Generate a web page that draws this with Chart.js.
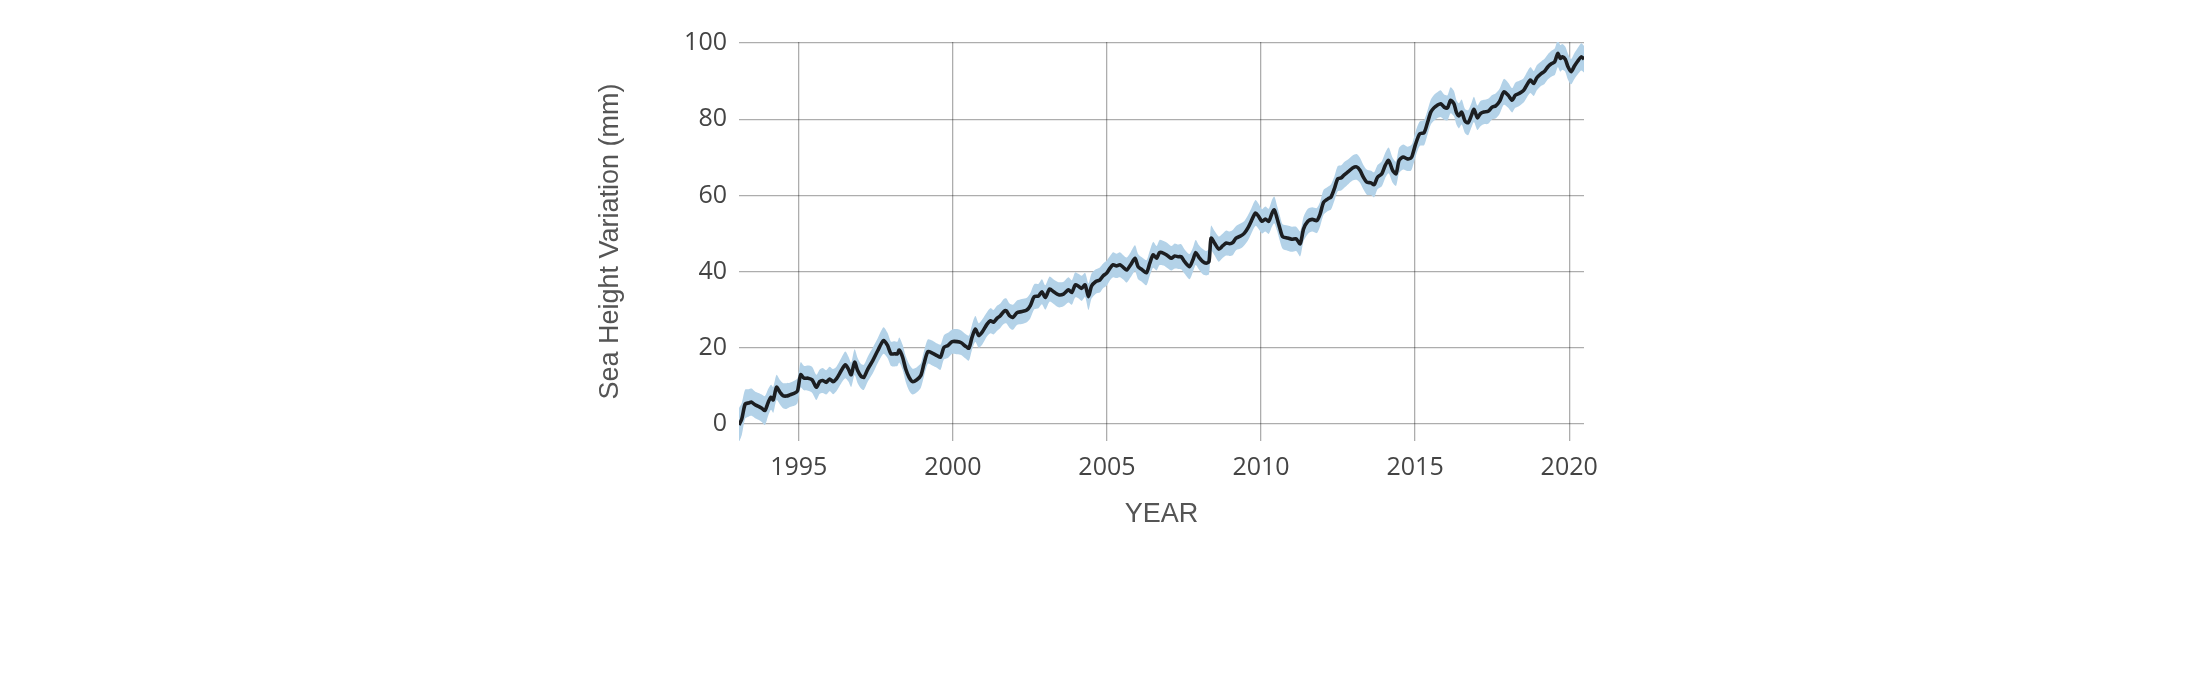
<!DOCTYPE html>
<html lang="en">
<head>
<meta charset="UTF-8">
<title>Sea Height Variation</title>
<script src="https://cdn.jsdelivr.net/npm/chart.js"></script>
<style>
    body { margin: 0; background: #fff; }
    #wrap { width: 2200px; height: 700px; }
</style>
</head>
<body>
<div id="wrap">
    <canvas id="grafico" width="2200" height="700"></canvas>
</div>

<script>
// time in decimal years
const years = [
    1993.06, 1993.15, 1993.26, 1993.37, 1993.47, 1993.58, 1993.69, 1993.80, 1993.90, 1994.01,
    1994.10, 1994.17, 1994.28, 1994.39, 1994.49, 1994.60, 1994.71, 1994.87, 1994.96, 1995.06,
    1995.17, 1995.30, 1995.43, 1995.57, 1995.68, 1995.78, 1995.89, 1996.00, 1996.11, 1996.22,
    1996.38, 1996.51, 1996.61, 1996.70, 1996.81, 1996.91, 1997.02, 1997.11, 1997.24, 1997.40,
    1997.56, 1997.75, 1997.88, 1997.99, 1998.10, 1998.20, 1998.26, 1998.37, 1998.47, 1998.58,
    1998.69, 1998.83, 1998.96, 1999.06, 1999.19, 1999.33, 1999.49, 1999.60, 1999.71, 1999.84,
    1999.98, 2000.14, 2000.27, 2000.41, 2000.52, 2000.62, 2000.73, 2000.84, 2000.95, 2001.11,
    2001.22, 2001.32, 2001.43, 2001.54, 2001.65, 2001.73, 2001.84, 2001.95, 2002.08, 2002.24,
    2002.40, 2002.51, 2002.64, 2002.78, 2002.89, 2003.00, 2003.14, 2003.27, 2003.43, 2003.59,
    2003.75, 2003.86, 2003.97, 2004.07, 2004.18, 2004.29, 2004.40, 2004.50, 2004.64, 2004.77,
    2004.88, 2004.99, 2005.10, 2005.20, 2005.31, 2005.42, 2005.53, 2005.64, 2005.77, 2005.91,
    2006.01, 2006.12, 2006.28, 2006.39, 2006.50, 2006.61, 2006.71, 2006.84, 2006.98, 2007.09,
    2007.20, 2007.31, 2007.41, 2007.52, 2007.68, 2007.79, 2007.88, 2007.98, 2008.11, 2008.22,
    2008.31, 2008.38, 2008.49, 2008.63, 2008.76, 2008.87, 2008.98, 2009.08, 2009.19, 2009.35,
    2009.46, 2009.57, 2009.68, 2009.82, 2009.92, 2010.03, 2010.14, 2010.25, 2010.36, 2010.43,
    2010.52, 2010.61, 2010.70, 2010.86, 2011.00, 2011.14, 2011.27, 2011.38, 2011.52, 2011.66,
    2011.81, 2011.92, 2012.03, 2012.17, 2012.27, 2012.38, 2012.49, 2012.60, 2012.70, 2012.84,
    2012.97, 2013.10, 2013.21, 2013.32, 2013.43, 2013.57, 2013.67, 2013.78, 2013.92, 2014.03,
    2014.14, 2014.27, 2014.38, 2014.48, 2014.61, 2014.75, 2014.86, 2014.91, 2015.02, 2015.15,
    2015.29, 2015.40, 2015.51, 2015.61, 2015.72, 2015.83, 2015.94, 2016.05, 2016.15, 2016.26,
    2016.34, 2016.42, 2016.51, 2016.62, 2016.72, 2016.83, 2016.91, 2017.02, 2017.12, 2017.23,
    2017.37, 2017.50, 2017.61, 2017.74, 2017.88, 2018.02, 2018.15, 2018.25, 2018.38, 2018.52,
    2018.63, 2018.74, 2018.85, 2018.95, 2019.09, 2019.20, 2019.31, 2019.42, 2019.53, 2019.63,
    2019.71, 2019.78, 2019.87, 2019.96, 2020.06, 2020.17, 2020.28, 2020.39, 2020.48
];

// sea height variation (mm)
const seaHeight = [
    -0.3, 1.3, 5.2, 5.5, 5.7, 5.0, 4.6, 4.1, 3.5, 5.7,
    7.0, 6.3, 9.6, 8.3, 7.4, 7.3, 7.6, 8.1, 8.7, 12.9,
    12.0, 12.0, 11.6, 9.6, 11.1, 11.4, 10.9, 11.8, 11.1, 11.8,
    14.0, 15.5, 14.4, 12.9, 16.2, 14.0, 12.5, 12.2, 14.4, 16.6,
    19.2, 21.9, 20.6, 18.4, 18.4, 18.4, 19.4, 17.5, 14.4, 12.2,
    11.1, 11.6, 12.7, 15.7, 19.0, 18.6, 17.9, 17.5, 20.1, 20.6,
    21.6, 21.6, 21.3, 20.4, 19.9, 22.7, 24.9, 23.2, 24.1, 26.2,
    27.1, 26.7, 27.7, 28.4, 29.5, 29.7, 28.4, 28.0, 29.2, 29.5,
    29.9, 31.0, 33.4, 33.6, 34.7, 33.2, 35.4, 34.7, 33.9, 34.1,
    35.2, 34.5, 36.5, 36.2, 35.6, 36.5, 33.4, 36.2, 37.4, 37.8,
    38.9, 39.6, 40.9, 41.8, 41.5, 41.8, 41.1, 40.4, 41.8, 43.5,
    41.3, 40.6, 39.7, 42.2, 44.4, 43.5, 45.0, 44.8, 44.1, 43.5,
    44.1, 43.9, 43.9, 42.6, 41.3, 43.1, 45.0, 43.8, 42.6, 42.2,
    42.6, 48.8, 47.5, 45.9, 46.8, 47.5, 47.3, 47.6, 48.8, 49.4,
    50.1, 51.4, 53.2, 55.4, 54.5, 53.2, 53.8, 53.2, 55.4, 56.2,
    54.0, 51.4, 49.2, 48.8, 48.5, 48.6, 47.3, 51.2, 53.2, 53.7,
    53.4, 55.2, 58.2, 59.1, 59.6, 61.8, 64.4, 64.6, 65.4, 66.3,
    67.2, 67.5, 66.6, 64.8, 63.5, 63.3, 62.8, 64.8, 65.7, 67.9,
    69.2, 66.6, 65.7, 69.2, 70.1, 69.6, 69.8, 70.5, 73.6, 76.2,
    76.5, 79.1, 81.9, 83.0, 83.7, 84.1, 83.2, 83.0, 85.0, 84.1,
    81.8, 80.9, 81.9, 79.5, 79.1, 81.1, 82.6, 80.4, 81.5, 81.9,
    82.1, 83.2, 83.5, 84.7, 87.2, 86.3, 85.0, 86.3, 86.8, 87.6,
    89.1, 90.3, 89.4, 90.9, 92.0, 92.6, 93.8, 94.6, 95.1, 97.3,
    96.0, 96.4, 95.8, 93.8, 92.5, 94.0, 95.3, 96.4, 95.8
];

// half width of the shaded uncertainty band (mm)
const bandHalf = [
    4.5, 4.2, 3.8, 3.6, 3.6, 3.5, 3.5, 3.6, 3.8, 3.5,
    3.3, 3.4, 3.3, 3.2, 3.3, 3.4, 3.2, 3.3, 3.2, 3.3,
    3.2, 3.3, 3.4, 3.3, 3.2, 3.3, 3.2, 3.2, 3.3, 3.2,
    3.3, 3.5, 3.3, 3.2, 3.4, 3.3, 3.2, 3.3, 3.3, 3.4,
    3.3, 3.5, 3.3, 3.2, 3.3, 3.2, 3.3, 3.3, 3.4, 3.5,
    3.4, 3.3, 3.2, 3.3, 3.2, 3.3, 3.2, 3.3, 3.2, 3.3,
    3.2, 3.3, 3.2, 3.2, 3.3, 3.3, 3.4, 3.2, 3.3, 3.2,
    3.3, 3.2, 3.3, 3.2, 3.3, 3.3, 3.2, 3.3, 3.2, 3.3,
    3.2, 3.3, 3.3, 3.2, 3.3, 3.2, 3.3, 3.2, 3.3, 3.2,
    3.3, 3.2, 3.3, 3.2, 3.3, 3.2, 3.5, 3.3, 3.2, 3.3,
    3.2, 3.3, 3.2, 3.3, 3.2, 3.3, 3.2, 3.3, 3.3, 3.4,
    3.3, 3.2, 3.3, 3.3, 3.4, 3.2, 3.3, 3.2, 3.3, 3.2,
    3.3, 3.2, 3.3, 3.2, 3.3, 3.2, 3.3, 3.2, 3.3, 3.2,
    3.3, 3.3, 3.2, 3.3, 3.2, 3.3, 3.2, 3.3, 3.2, 3.3,
    3.2, 3.3, 3.3, 3.4, 3.3, 3.2, 3.3, 3.3, 3.5, 3.5,
    3.3, 3.3, 3.2, 3.3, 3.3, 3.2, 3.3, 3.2, 3.3, 3.2,
    3.3, 3.2, 3.3, 3.2, 3.3, 3.2, 3.3, 3.3, 3.4, 3.3,
    3.3, 3.4, 3.3, 3.2, 3.3, 3.2, 3.3, 3.2, 3.3, 3.3,
    3.4, 3.3, 3.2, 3.3, 3.3, 3.2, 3.3, 3.2, 3.3, 3.2,
    3.3, 3.2, 3.3, 3.4, 3.4, 3.5, 3.3, 3.3, 3.4, 3.3,
    3.2, 3.3, 3.3, 3.2, 3.3, 3.2, 3.3, 3.2, 3.3, 3.2,
    3.3, 3.2, 3.3, 3.3, 3.4, 3.3, 3.2, 3.3, 3.3, 3.2,
    3.3, 3.4, 3.3, 3.3, 3.2, 3.3, 3.3, 3.4, 3.5, 3.6,
    3.5, 3.4, 3.3, 3.4, 3.3, 3.4, 3.5, 3.6, 3.5
];

const xTicks = [1995, 2000, 2005, 2010, 2015, 2020];
const yTicks = [0, 20, 40, 60, 80, 100];

const xMin = 1993.06, xMax = 2020.48;
const yMin = -4.5, yMax = 100.3;

const linea = years.map((x, i) => ({ x: x, y: seaHeight[i] }));
const bandaBaja = years.map((x, i) => ({ x: x, y: seaHeight[i] - bandHalf[i] }));
const bandaAlta = years.map((x, i) => ({ x: x, y: seaHeight[i] + bandHalf[i] }));

const gridColor = 'rgba(0,0,0,0.32)';
const tickFont = { family: '"Open Sans", sans-serif', size: 25 };
const titleFont = { family: '"Liberation Sans", Arial, sans-serif', size: 27 };

new Chart(document.getElementById('grafico'), {
    type: 'line',
    data: {
        datasets: [
            {
                label: 'Sea Height Variation',
                data: linea,
                borderColor: '#1c1e21',
                borderWidth: 3.6,
                pointRadius: 0,
                tension: 0.25,
                fill: false
            },
            {
                label: 'low',
                data: bandaBaja,
                borderWidth: 0,
                borderColor: 'rgba(0,0,0,0)',
                pointRadius: 0,
                tension: 0.25,
                fill: false
            },
            {
                label: 'high',
                data: bandaAlta,
                borderWidth: 0,
                borderColor: 'rgba(0,0,0,0)',
                backgroundColor: '#b3d2e8',
                pointRadius: 0,
                tension: 0.25,
                fill: '-1'
            }
        ]
    },
    options: {
        responsive: false,
        animation: false,
        layout: {
            padding: { left: 580, right: 616, top: 42, bottom: 169 }
        },
        plugins: {
            legend: { display: false },
            tooltip: { enabled: false }
        },
        scales: {
            x: {
                type: 'linear',
                min: xMin,
                max: xMax,
                afterBuildTicks: (scale) => { scale.ticks = xTicks.map(v => ({ value: v })); },
                afterFit: (scale) => { scale.height = 90; },
                grid: { color: gridColor, lineWidth: 1.3, drawTicks: false },
                border: { display: false },
                ticks: {
                    font: tickFont,
                    color: '#444',
                    padding: 12,
                    maxRotation: 0,
                    autoSkip: false,
                    callback: (v) => String(v)
                },
                title: {
                    display: true,
                    text: 'YEAR',
                    font: titleFont,
                    color: '#555',
                    padding: { top: 10, bottom: 0 }
                }
            },
            y: {
                type: 'linear',
                min: yMin,
                max: yMax,
                afterBuildTicks: (scale) => { scale.ticks = yTicks.map(v => ({ value: v })); },
                afterFit: (scale) => { scale.width = 159; },
                grid: { color: gridColor, lineWidth: 1.3, drawTicks: false },
                border: { display: false },
                ticks: {
                    font: tickFont,
                    color: '#444',
                    padding: 12,
                    callback: (v) => String(v)
                },
                title: {
                    display: true,
                    text: 'Sea Height Variation (mm)',
                    font: titleFont,
                    color: '#555',
                    padding: { top: 14, bottom: 0 }
                }
            }
        }
    }
});
</script>
</body>
</html>
